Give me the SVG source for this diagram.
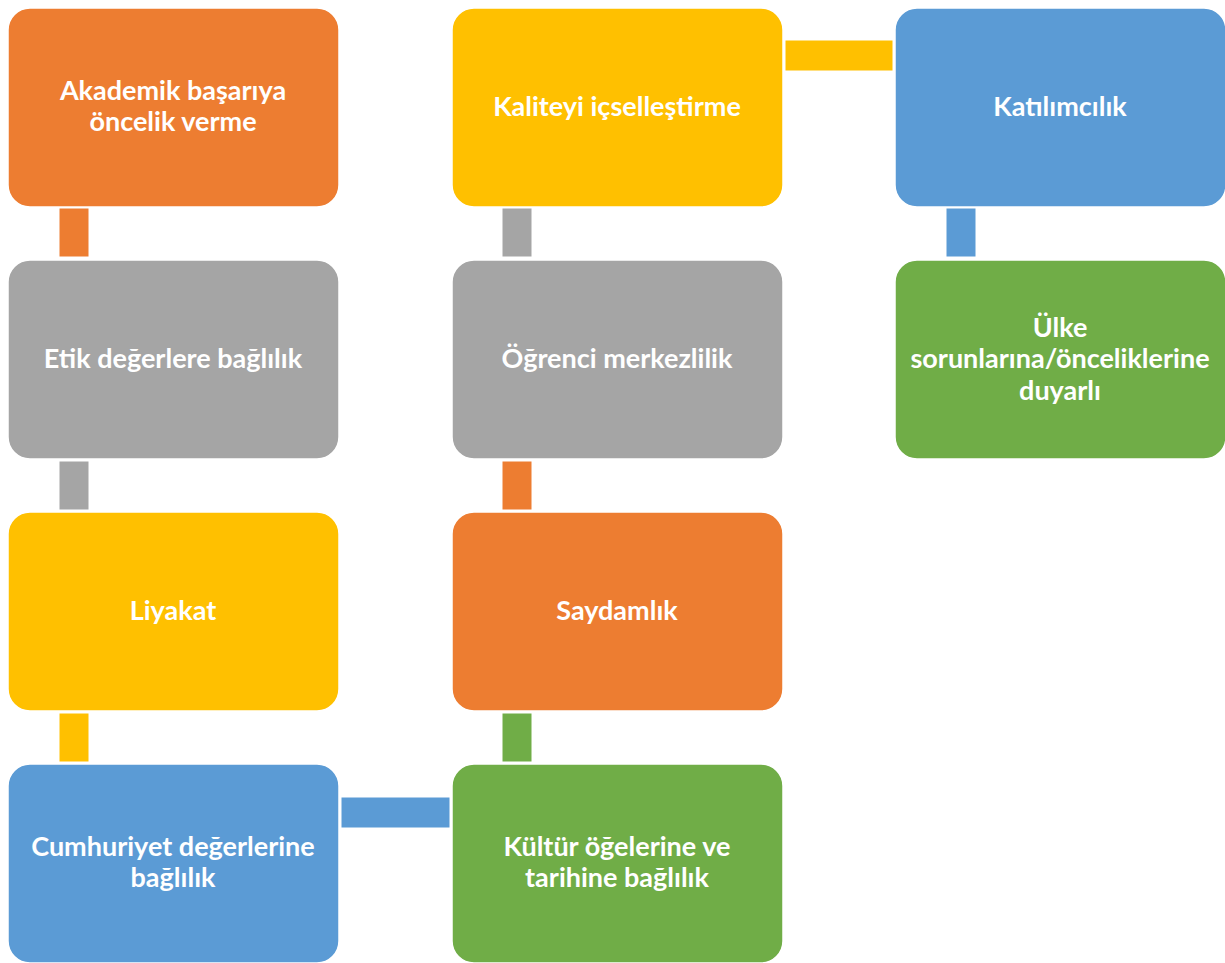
<svg xmlns="http://www.w3.org/2000/svg" width="1225" height="963" viewBox="0 0 1225 963">
<style>
.box{stroke:#ffffff;stroke-width:1.5}
.con{stroke:#ffffff;stroke-width:1}
.t{font-family:Lato,"Open Sans","Liberation Sans",sans-serif;font-weight:bold;font-size:27px;fill:#ffffff;text-anchor:middle}
.o{fill:#ED7D31}.g{fill:#A5A5A5}.y{fill:#FFC000}.b{fill:#5B9BD5}.gr{fill:#70AD47}
</style>
<rect width="1225" height="963" fill="#ffffff"/>
<g id="connectors">
<rect class="con o" x="59" y="208" width="30" height="49"/>
<rect class="con g" x="59" y="461" width="30" height="49"/>
<rect class="con y" x="59" y="713" width="30" height="49"/>
<rect class="con b" x="341" y="797" width="109" height="31"/>
<rect class="con gr" x="502" y="713" width="30" height="49"/>
<rect class="con o" x="502" y="461" width="30" height="49"/>
<rect class="con g" x="502" y="208" width="30" height="49"/>
<rect class="con y" x="785" y="40" width="108" height="31"/>
<rect class="con b" x="946" y="208" width="30" height="49"/>
</g>
<g id="n1"><rect class="box o" x="8" y="8" width="331" height="199" rx="22"/>
<text class="t" x="173" y="100">Akademik başarıya</text><text class="t" x="173" y="131">öncelik verme</text></g>
<g id="n2"><rect class="box g" x="8" y="260" width="331" height="199" rx="22"/>
<text class="t" x="173" y="368">Etik değerlere bağlılık</text></g>
<g id="n3"><rect class="box y" x="8" y="512" width="331" height="199" rx="22"/>
<text class="t" x="173" y="620">Liyakat</text></g>
<g id="n4"><rect class="box b" x="8" y="764" width="331" height="199" rx="22"/>
<text class="t" x="173" y="856">Cumhuriyet değerlerine</text><text class="t" x="173" y="887">bağlılık</text></g>
<g id="n5"><rect class="box gr" x="452" y="764" width="331" height="199" rx="22"/>
<text class="t" x="617" y="856">Kültür öğelerine ve</text><text class="t" x="617" y="887">tarihine bağlılık</text></g>
<g id="n6"><rect class="box o" x="452" y="512" width="331" height="199" rx="22"/>
<text class="t" x="617" y="620">Saydamlık</text></g>
<g id="n7"><rect class="box g" x="452" y="260" width="331" height="199" rx="22"/>
<text class="t" x="617" y="368">Öğrenci merkezlilik</text></g>
<g id="n8"><rect class="box y" x="452" y="8" width="331" height="199" rx="22"/>
<text class="t" x="617" y="116">Kaliteyi içselleştirme</text></g>
<g id="n9"><rect class="box b" x="895" y="8" width="331" height="199" rx="22"/>
<text class="t" x="1060" y="116">Katılımcılık</text></g>
<g id="n10"><rect class="box gr" x="895" y="260" width="331" height="199" rx="22"/>
<text class="t" x="1060" y="337">Ülke</text><text class="t" x="1060" y="368">sorunlarına/önceliklerine</text><text class="t" x="1060" y="400">duyarlı</text></g>
</svg>
